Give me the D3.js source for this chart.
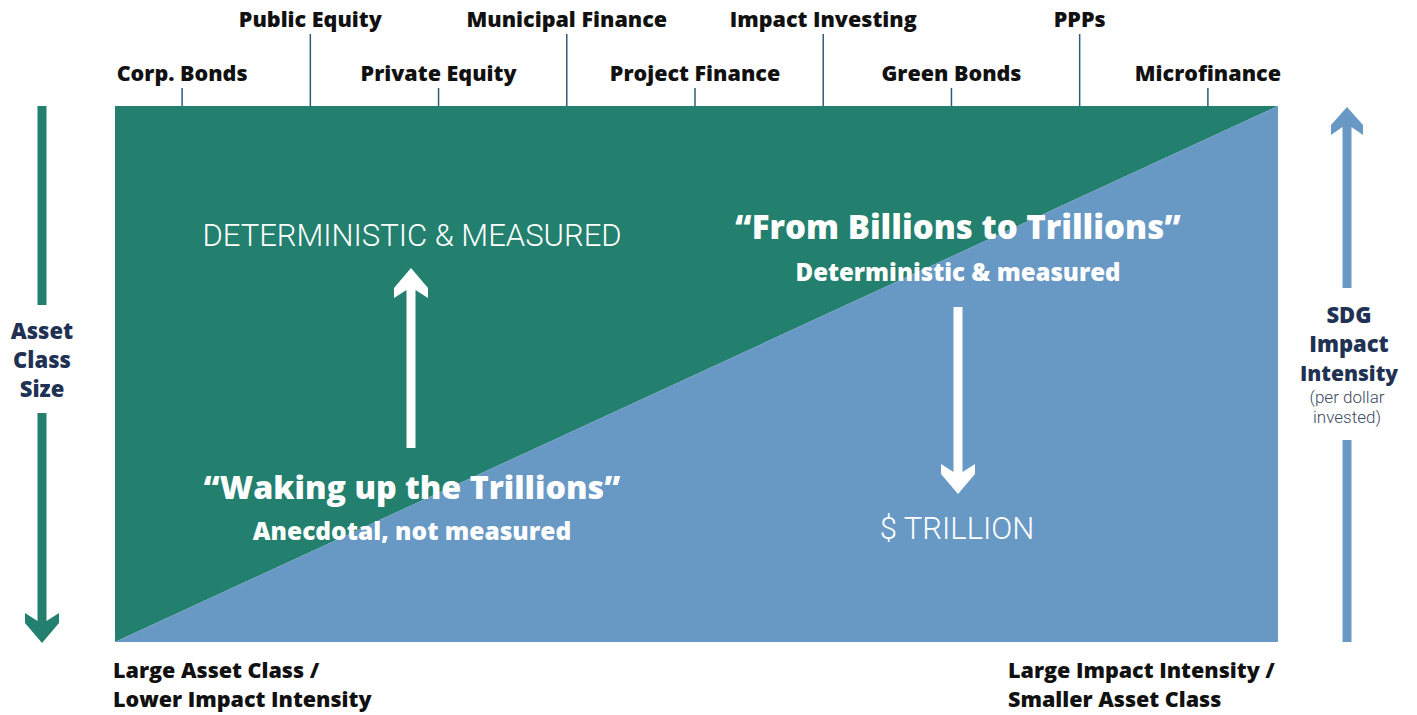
<!DOCTYPE html>
<meta charset="utf-8">
<head>
<style>
    body {margin: 0; background: #fff; font-family: "Roboto", "DejaVu Sans", sans-serif;}
    text {font-family: "Roboto", "DejaVu Sans", sans-serif;}
    text.b {font-family: "Open Sans", "Roboto", sans-serif; font-weight: 800;}
</style>
<script src="https://cdn.jsdelivr.net/npm/d3@7"></script>
</head>
<body>
    <div id="chart"></div>
</body>
<script>

// asset classes along the top, from large asset class to high impact intensity
var assetClasses = ["Corp. Bonds", "Public Equity", "Private Equity", "Municipal Finance",
    "Project Finance", "Impact Investing", "Green Bonds", "PPPs", "Microfinance"];

// share of the column that is "measured" (green) going across: a straight diagonal
var spectrum = [0, 1];
var measuredShare = [1, 0];

var width = 1417;
var height = 715;

var green = "#237f6e";
var blue = "#6899c5";
var navy = "#1f3253";
var tickColor = "#2f5b7c";

var svg = d3.select("#chart")
    .append("svg")
    .attr("width", width)
    .attr("height", height);

var x = d3.scaleLinear().domain([0, 1]).range([115, 1278]);
var y = d3.scaleLinear().domain([0, 1]).range([642, 106]);
var xCat = d3.scalePoint().domain(assetClasses).range([118, 1272]).padding(0.5);

// green (top-left) and blue (bottom-right) areas split by the diagonal
var topEdge = spectrum.map(function(s) { return [x(s), y(1)]; });
var bottomEdge = spectrum.map(function(s) { return [x(s), y(0)]; });
var diag = spectrum.map(function(s, i) { return [x(s), y(measuredShare[i] == 1 ? 0 : 1)]; });

var greenPts = topEdge.concat(diag.slice().reverse());
var bluePts = diag.concat(bottomEdge.slice().reverse());

var line = d3.line();
svg.append("path")
    .attr("d", line(greenPts) + "Z")
    .style("fill", green);
svg.append("path")
    .attr("d", line(bluePts) + "Z")
    .style("fill", blue);

// top axis: alternating short / long ticks
var axisG = svg.append("g");
assetClasses.forEach(function(name, i) {
    var long = i % 2 == 1;
    var cx = xCat(name);
    axisG.append("line")
        .attr("x1", cx).attr("x2", cx)
        .attr("y1", long ? 34 : 88)
        .attr("y2", 106)
        .style("stroke", tickColor)
        .style("stroke-width", 1.5);
    axisG.append("text")
        .attr("class", "b")
        .attr("x", cx)
        .attr("y", long ? 27 : 81)
        .style("text-anchor", "middle")
        .style("font-size", "21.5px")
        .style("fill", "#111")
        .text(name);
});

// block arrow: shaft + chevron head
function arrow(cx, yFrom, yTo, color, shaft, headW, headH) {
    var dir = yTo > yFrom ? 1 : -1;
    var baseY = yTo - dir * headH;
    var notch = dir * 8;
    var pts = [
        [cx - shaft / 2, yFrom],
        [cx - shaft / 2, baseY + notch],
        [cx - headW / 2, baseY],
        [cx - headW / 2, baseY + dir * 10],
        [cx, yTo],
        [cx + headW / 2, baseY + dir * 10],
        [cx + headW / 2, baseY],
        [cx + shaft / 2, baseY + notch],
        [cx + shaft / 2, yFrom]
    ];
    svg.append("polygon")
        .attr("points", pts.map(function(p) { return p.join(","); }).join(" "))
        .style("fill", color);
}

function bar(cx, y1, y2, color, w) {
    svg.append("rect")
        .attr("x", cx - w / 2).attr("y", y1)
        .attr("width", w).attr("height", y2 - y1)
        .style("fill", color);
}

// left: Asset Class Size (down)
bar(42, 106, 305, green, 9);
arrow(42, 413, 643, green, 9, 34, 30);

// right: SDG Impact Intensity (up)
arrow(1347, 288, 107, blue, 9, 32, 28);
bar(1347, 440, 642, blue, 9);

// inner arrows
arrow(411, 448, 268, "#fff", 9, 34, 30);
arrow(958, 307, 494, "#fff", 9, 34, 30);

function label(tx, ty, str, size, weight, color, anchor) {
    var t = svg.append("text")
        .attr("x", tx).attr("y", ty)
        .style("text-anchor", anchor || "middle")
        .style("font-size", size + "px")
        .style("fill", color)
        .text(str);
    if (weight == "bold") t.attr("class", "b");
    else t.style("font-weight", weight);
    return t;
}

label(42, 339, "Asset", 22, "bold", navy);
label(42, 368, "Class", 22, "bold", navy);
label(42, 397, "Size", 22, "bold", navy);

label(1349, 323, "SDG", 22, "bold", navy);
label(1349, 352, "Impact", 22, "bold", navy);
label(1349, 381, "Intensity", 21, "bold", navy);
label(1347, 403, "(per dollar", 17, 300, "#3b4a63");
label(1347, 423, "invested)", 17, 300, "#3b4a63");

label(412, 246, "DETERMINISTIC & MEASURED", 31, 300, "#fff");
label(412, 499, "\u201cWaking up the Trillions\u201d", 32.2, "bold", "#fff");
label(412, 540, "Anecdotal, not measured", 24.5, "bold", "#fff");

label(958, 239, "\u201cFrom Billions to Trillions\u201d", 33, "bold", "#fff");
label(958, 281, "Deterministic & measured", 24, "bold", "#fff");
label(957, 539, "$ TRILLION", 31, 300, "#fff");

label(113, 678, "Large Asset Class /", 21.5, "bold", "#111", "start");
label(113, 707, "Lower Impact Intensity", 21.5, "bold", "#111", "start");
label(1008, 678, "Large Impact Intensity /", 21.5, "bold", "#111", "start");
label(1008, 707, "Smaller Asset Class", 21.5, "bold", "#111", "start");

</script>
